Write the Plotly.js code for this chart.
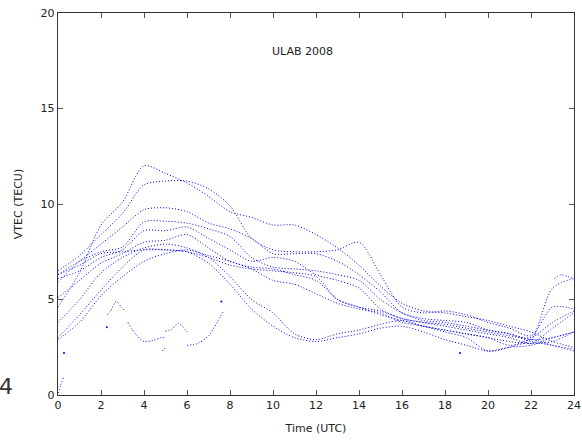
<!DOCTYPE html>
<html>
<head>
<meta charset="utf-8">
<script src="https://cdn.plot.ly/plotly-3.0.1.min.js"></script>
<style>
html,body{margin:0;padding:0;background:#fff;}
#chart{width:582px;height:440px;}
</style>
</head>
<body>
<div id="chart"></div>
<script>
// Hour grid (UTC) shared by the daily VTEC curves
var HOURS = [0,1,2,3,4,5,6,7,8,9,10,11,12,13,14,15,16,17,18,19,20,21,22,23,24];

// Daily VTEC curves (TECU)
var DAY1  = [4.6,6.4,8.9,10.1,12.0,11.6,11.1,10.4,9.6,9.3,8.9,8.9,8.4,7.7,6.8,5.7,4.8,4.4,4.3,4.1,3.9,3.6,3.3,2.8,2.5];
var DAY2  = [6.5,7.3,8.4,9.5,11.0,11.2,11.2,10.8,9.9,8.2,7.6,7.5,7.5,7.6,8.0,6.3,4.6,4.3,4.4,4.2,3.8,3.5,3.1,4.6,4.5];
var DAY3  = [5.9,7.0,7.9,8.8,9.7,9.8,9.6,9.0,8.7,8.2,7.4,7.4,7.4,7.0,6.3,5.4,4.3,4.0,3.9,3.8,3.4,3.2,2.9,3.0,3.3];
var DAY4  = [6.3,7.0,7.5,7.75,9.06,9.1,9.0,8.7,8.3,7.2,6.7,6.6,6.5,6.3,6.0,5.0,4.3,3.9,3.8,3.6,3.4,3.2,2.8,2.6,2.4];
var DAY5  = [6.1,6.5,7.2,7.6,8.6,8.6,8.8,8.2,7.6,7.0,7.2,7.0,6.3,6.0,5.6,4.5,4.0,3.8,3.6,3.4,3.2,3.0,2.7,3.5,4.3];
var DAY6  = [5.1,6.0,6.9,7.4,8.0,8.1,8.4,7.7,7.0,6.7,6.6,6.3,6.0,5.0,4.6,4.2,3.9,3.6,3.4,3.2,3.0,2.8,2.7,2.8,3.3];
var DAY7  = [3.8,5.0,6.4,7.2,7.7,7.9,7.7,7.2,6.2,5.0,4.3,3.2,2.9,3.2,3.4,3.7,3.9,3.6,3.4,3.2,3.0,2.6,2.9,5.6,6.1];
var DAY8  = [3.0,4.2,5.5,6.7,7.6,7.6,7.5,6.9,5.8,4.5,3.6,3.0,2.8,3.0,3.2,3.5,3.6,3.3,2.9,2.6,2.3,2.5,2.6,3.0,3.3];
var DAY9  = [6.3,6.8,7.4,7.5,7.6,7.6,7.5,7.2,6.8,6.6,6.5,6.4,6.2,5.0,4.6,4.4,4.0,3.8,3.7,3.5,3.3,3.1,3.0,3.8,4.4];
var DAY10 = [2.9,3.8,5.2,6.2,7.0,7.4,7.6,7.3,7.0,6.6,6.0,5.8,5.3,4.8,4.5,4.3,3.8,3.6,3.3,3.0,2.3,2.5,2.9,2.6,2.3];
var DAYS = [DAY1,DAY2,DAY3,DAY4,DAY5,DAY6,DAY7,DAY8,DAY9,DAY10];

// Short fragments (hours, TECU)
var FRAG1_X = [2.3,2.45,2.7,2.95,3.1];        var FRAG1_Y = [4.2,4.4,4.9,4.6,4.4];
var FRAG2_X = [3.25,3.6,4.0,4.4,4.8,5.0];      var FRAG2_Y = [3.8,3.2,2.8,2.85,3.0,3.0];
var FRAG3_X = [5.0,5.3,5.6,6.0];               var FRAG3_Y = [3.35,3.45,3.75,3.3];
var FRAG4_X = [6.0,6.5,7.0,7.4,7.7];           var FRAG4_Y = [2.6,2.7,3.1,3.8,4.4];
var FRAG5_X = [4.85,5.0];                      var FRAG5_Y = [2.3,2.5];
var FRAG6_X = [0.02,0.12,0.25];                var FRAG6_Y = [0.1,0.5,0.9];
var FRAG7_X = [23.1,23.4,23.7,24.0];           var FRAG7_Y = [6.1,6.3,6.2,6.1];
var FRAGS = [[FRAG1_X,FRAG1_Y],[FRAG2_X,FRAG2_Y],[FRAG3_X,FRAG3_Y],[FRAG4_X,FRAG4_Y],[FRAG5_X,FRAG5_Y],[FRAG6_X,FRAG6_Y],[FRAG7_X,FRAG7_Y]];

// Isolated dots
var DOTS_X = [2.27,7.6,0.28,18.7];
var DOTS_Y = [3.55,4.9,2.2,2.2];

var XTICKS = [0,2,4,6,8,10,12,14,16,18,20,22,24];
var YTICKS = [0,5,10,15,20];

var BLUE = '#0000ff';
var DASH = '1px,2px';
var traces = [];
DAYS.forEach(function(d){
  traces.push({x:HOURS, y:d, mode:'lines', type:'scatter', hoverinfo:'skip',
    line:{color:BLUE, width:1, dash:DASH, shape:'spline', smoothing:0.8}});
});
FRAGS.forEach(function(f){
  traces.push({x:f[0], y:f[1], mode:'lines', type:'scatter', hoverinfo:'skip',
    line:{color:BLUE, width:1, dash:DASH, shape:'spline', smoothing:0.8}});
});
traces.push({x:DOTS_X, y:DOTS_Y, mode:'markers', type:'scatter', hoverinfo:'skip',
  marker:{color:BLUE, size:2}});

var axisCommon = {
  showline:true, linecolor:'#333', linewidth:1.2, mirror:'ticks',
  ticks:'inside', ticklen:5, tickwidth:1, tickcolor:'#555',
  showgrid:false, zeroline:false,
  tickfont:{family:'DejaVu Sans', size:11, color:'#222'},
  fixedrange:true
};

var layout = {
  width:582, height:440,
  margin:{l:58, r:8, t:13, b:45},
  paper_bgcolor:'#fff', plot_bgcolor:'#fff',
  showlegend:false,
  font:{family:'DejaVu Sans', size:11, color:'#222'},
  xaxis:Object.assign({}, axisCommon, {
    range:[0,24], tickvals:XTICKS, ticktext:XTICKS.map(String),
    title:{text:'Time (UTC)', font:{family:'DejaVu Sans', size:11, color:'#222'}, standoff:12}
  }),
  yaxis:Object.assign({}, axisCommon, {
    range:[0,20], tickvals:YTICKS, ticktext:YTICKS.map(String),
    title:{text:'VTEC (TECU)', font:{family:'DejaVu Sans', size:11, color:'#222'}, standoff:15}
  }),
  annotations:[
    {text:'ULAB 2008', xref:'paper', yref:'paper', x:0.473, y:0.9005,
     xanchor:'center', yanchor:'middle', showarrow:false,
     font:{family:'DejaVu Sans', size:11, color:'#222'}},
    {text:'4', xref:'paper', yref:'paper', x:-0.1008, y:0.022,
     xanchor:'center', yanchor:'middle', showarrow:false,
     font:{family:'DejaVu Sans', size:22, color:'#333'}}
  ]
};

Plotly.newPlot('chart', traces, layout, {displayModeBar:false, staticPlot:true});
</script>
</body>
</html>
